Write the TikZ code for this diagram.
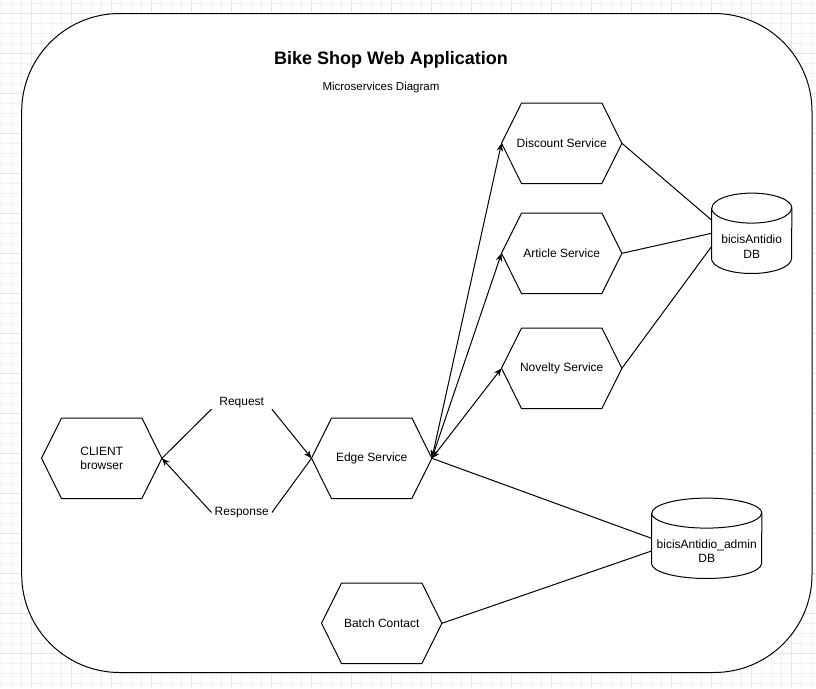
\documentclass[tikz,border=0pt]{standalone}
\usepackage{fontspec}
\setmainfont{Liberation Sans}
\usetikzlibrary{calc,arrows.meta}
\begin{document}
\begin{tikzpicture}[x=1pt,y=-1pt,
  every node/.style={font=\fontsize{12}{14.5}\selectfont, inner sep=0pt, align=center},
  shapeline/.style={line width=1pt, line join=round},
  hexbox/.style={minimum width=120pt, minimum height=80pt},
  conn/.style={line width=1pt},
  tip/.tip={Stealth[length=8pt,width=6.5pt]},
  arr/.style={conn, -tip},
  biarr/.style={conn, tip-tip},
  lbl/.style={minimum width=60pt, minimum height=12pt},
  gridminor/.style={draw=black!5, line width=1pt},
  gridmajor/.style={draw=black!10, line width=1pt}
]
\useasboundingbox (0,0) rectangle (816,688);
\fill[white] (0,0) rectangle (816,688);
% background grid
\foreach \x in {1.7,11.7,...,811.7} \draw[gridminor] (\x,0) -- (\x,688);
\foreach \y in {3.3,13.3,...,683.3} \draw[gridminor] (0,\y) -- (816,\y);
\foreach \x in {31.7,71.7,...,791.7} \draw[gridmajor] (\x,0) -- (\x,688);
\foreach \y in {13.3,53.3,...,653.3} \draw[gridmajor] (0,\y) -- (816,\y);

% container
\node[draw, fill=white, line width=1pt, rounded corners=98pt,
      minimum width=790.3pt, minimum height=659pt] (frame) at (416.85,343) {};

% titles
\node[font=\bfseries\fontsize{18}{20}\selectfont] (title) at (391,59.5) {Bike Shop Web Application};
\node[font=\fontsize{11.5}{13}\selectfont] (subtitle) at (381,88) {Microservices Diagram};

% hexagon services
\node[hexbox] (client) at (101.7,458.3) {CLIENT\\browser};
\node[hexbox] (edge) at (371.7,458.3) {Edge Service};
\node[hexbox] (disc) at (561.7,143.3) {Discount Service};
\node[hexbox] (art) at (561.7,253.3) {Article Service};
\node[hexbox] (nov) at (561.7,368.3) {Novelty Service};
\node[hexbox] (batch) at (381.7,623.3) {Batch Contact};
\foreach \n in {client,edge,disc,art,nov,batch}
  \draw[shapeline] (\n.west) -- ($(\n.north west)+(20pt,0pt)$) -- ($(\n.north east)+(-20pt,0pt)$)
     -- (\n.east) -- ($(\n.south east)+(-20pt,0pt)$) -- ($(\n.south west)+(20pt,0pt)$) -- cycle;

% databases
\node[minimum width=80pt, minimum height=80pt] (db1) at (751.7,233.3) {};
\node (db1t) at (751.7,246.5) {bicisAntidio\\DB};
\node[minimum width=110pt, minimum height=80pt] (db2) at (706.7,538.3) {};
\node (db2t) at (706.7,551) {bicisAntidio\_admin\\DB};
\foreach \n/\r in {db1/40pt,db2/55pt}{
  \draw[shapeline] ($(\n.north west)+(0pt,-15pt)$) -- ($(\n.south west)+(0pt,15pt)$)
     arc[start angle=180,end angle=360,x radius=\r,y radius=15pt]
     -- ($(\n.north east)+(0pt,-15pt)$)
     arc[start angle=0,end angle=180,x radius=\r,y radius=15pt] -- cycle;
  \draw[shapeline] ($(\n.north west)+(0pt,-15pt)$)
     arc[start angle=180,end angle=360,x radius=\r,y radius=15pt];
}

% request / response labels
\node[lbl] (req) at (241.7,403) {Request};
\node[lbl] (resp) at (241.7,512.5) {Response};

% connectors
\draw[conn] (client.east) -- (req.south west);
\draw[arr] (req.south east) -- (edge.west);
\draw[conn] (edge.west) -- (resp.east);
\draw[arr] (resp.west) -- (client.east);

\draw[biarr] (edge.east) -- (disc.west);
\draw[biarr] (edge.east) -- (art.west);
\draw[biarr] (edge.east) -- (nov.west);

\draw[conn] (disc.east) -- ($(db1.west)+(0pt,13.3pt)$);
\draw[conn] (art.east) -- (db1.west);
\draw[conn] (nov.east) -- ($(db1.west)+(0pt,-13.3pt)$);
\draw[conn] (edge.east) -- (db2.west);
\draw[conn] (batch.east) -- ($(db2.west)+(0pt,-12.7pt)$);
\end{tikzpicture}
\end{document}
